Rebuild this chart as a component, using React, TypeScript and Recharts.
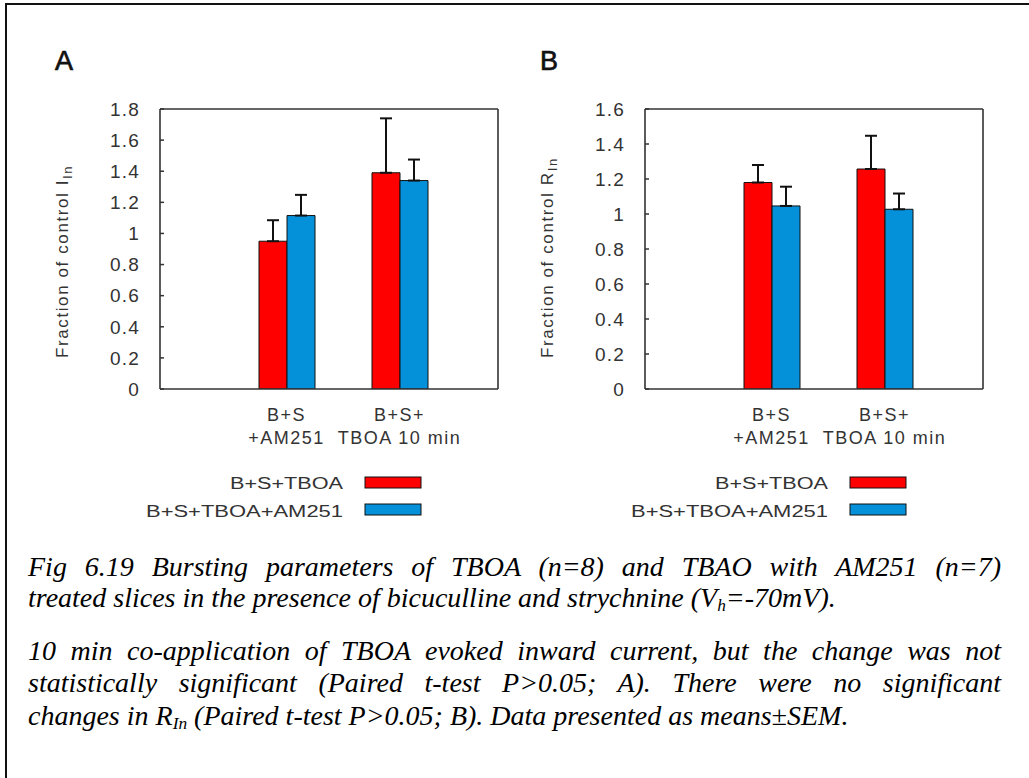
import React from 'react';
import { BarChart, Bar, XAxis, YAxis, ErrorBar } from 'recharts';

// ---------- data ----------
const categories = ['B+S\n+AM251', 'B+S+\nTBOA 10 min'];
const categoryPositions = [1, 2]; // positions on the 0..3 frame (top tick marks)
const seriesNames = ['B+S+TBOA', 'B+S+TBOA+AM251'];
const seriesColors = ['#FF0000', '#0590DA'];

// Panel A: fraction of control I_In
const iInTboa = [0.95, 1.39];
const iInTboaSem = [0.135, 0.35];
const iInAm = [1.115, 1.34];
const iInAmSem = [0.133, 0.135];

// Panel B: fraction of control R_In
const rInTboa = [1.18, 1.257];
const rInTboaSem = [0.1, 0.19];
const rInAm = [1.046, 1.027];
const rInAmSem = [0.11, 0.09];

const ticksA = [0, 0.2, 0.4, 0.6, 0.8, 1, 1.2, 1.4, 1.6, 1.8];
const ticksB = [0, 0.2, 0.4, 0.6, 0.8, 1, 1.2, 1.4, 1.6];

const buildRows = (a: number[], aErr: number[], b: number[], bErr: number[]) =>
  categories.map((name, i) => ({
    name,
    pos: categoryPositions[i],
    s1: a[i],
    s1Err: [0, aErr[i]],
    s2: b[i],
    s2Err: [0, bErr[i]],
  }));

const rowsA = buildRows(iInTboa, iInTboaSem, iInAm, iInAmSem);
const rowsB = buildRows(rInTboa, rInTboaSem, rInAm, rInAmSem);

const SANS = '"Liberation Sans", Arial, sans-serif';
const SERIF = '"Liberation Serif", "Times New Roman", serif';
const AXIS = '#333';

const fmt = (v: number) => String(Number(v.toFixed(1)));

const CatTick = (props: any) => {
  const { x, y, payload } = props;
  const lines = String(payload.value).split('\n');
  return (
    <text x={x} y={y} textAnchor="middle" fill="#333" fontFamily={SANS} fontSize={18} letterSpacing={1.5}>
      <tspan x={x} dy={32}>{lines[0]}</tspan>
      <tspan x={x} dy={23}>{lines[1]}</tspan>
    </text>
  );
};

type PanelProps = {
  rows: any[];
  ticks: number[];
  left: number;
};

const Panel = ({ rows, ticks, left }: PanelProps) => {
  const max = ticks[ticks.length - 1];
  return (
    <div style={{ position: 'absolute', left, top: 0, width: 505, height: 530 }}>
      <BarChart
        width={505}
        height={530}
        data={rows}
        margin={{ top: 108, right: 6, bottom: 81, left: 100 }}
        barGap={0}
      >
        <XAxis
          dataKey="name"
          xAxisId="bottom"
          orientation="bottom"
          height={60}
          padding={{ left: 70, right: 42 }}
          tickLine={false}
          tickSize={0}
          tickMargin={0}
          axisLine={{ stroke: AXIS, strokeWidth: 1.6 }}
          tick={<CatTick />}
          interval={0}
        />
        <XAxis
          xAxisId="top"
          dataKey="pos"
          orientation="top"
          type="number"
          domain={[0, 3]}
          ticks={categoryPositions}
          allowDataOverflow
          height={1}
          tickSize={-4}
          tick={false}
          tickLine={{ stroke: AXIS, strokeWidth: 1.5 }}
          axisLine={{ stroke: AXIS, strokeWidth: 1.6 }}
        />
        <YAxis
          yAxisId="left"
          orientation="left"
          width={60}
          domain={[0, max]}
          ticks={ticks}
          interval={0}
          allowDataOverflow
          tickSize={-4}
          tickMargin={24}
          tickFormatter={fmt}
          tickLine={{ stroke: AXIS, strokeWidth: 1.5 }}
          axisLine={{ stroke: AXIS, strokeWidth: 1.6 }}
          tick={{ fill: '#333', fontFamily: SANS, fontSize: 19, letterSpacing: 1.2 }}
        />
        <YAxis
          yAxisId="right"
          dataKey="s1"
          orientation="right"
          width={1}
          domain={[0, max]}
          ticks={ticks}
          interval={0}
          allowDataOverflow
          tickSize={-4}
          tick={false}
          tickLine={{ stroke: AXIS, strokeWidth: 1.5 }}
          axisLine={{ stroke: AXIS, strokeWidth: 1.6 }}
        />
        <Bar
          dataKey="s1"
          xAxisId="bottom"
          yAxisId="left"
          barSize={28}
          fill={seriesColors[0]}
          stroke="#111"
          strokeWidth={1}
          isAnimationActive={false}
        >
          <ErrorBar dataKey="s1Err" direction="y" width={6} stroke="#111" strokeWidth={2} isAnimationActive={false} />
        </Bar>
        <Bar
          dataKey="s2"
          xAxisId="bottom"
          yAxisId="left"
          barSize={28}
          fill={seriesColors[1]}
          stroke="#111"
          strokeWidth={1}
          isAnimationActive={false}
        >
          <ErrorBar dataKey="s2Err" direction="y" width={6} stroke="#111" strokeWidth={2} isAnimationActive={false} />
        </Bar>
      </BarChart>
    </div>
  );
};

const Decor = ({ dx, letter, yMain }: { dx: number; letter: string; yMain: string }) => (
  <g>
    <text x={55 + dx} y={70} fontFamily={SANS} fontSize={27} fill="#111" stroke="#111" strokeWidth={0.7}>
      {letter}
    </text>
    <text
      transform={`translate(${68 + dx},358) rotate(-90)`}
      fontFamily={SANS}
      fontSize={17}
      letterSpacing={1.6}
      fill="#333"
    >
      {yMain}
      <tspan fontSize={13} dy={4}>
        In
      </tspan>
    </text>
    {seriesNames.map((n, i) => (
      <g key={n}>
        <text
          x={343 + dx}
          y={[489, 517][i]}
          textAnchor="end"
          fontFamily={SANS}
          fontSize={16}
          fill="#333"
          textLength={[113, 197][i]}
          lengthAdjust="spacingAndGlyphs"
        >
          {n}
        </text>
        <rect x={365 + dx} y={[477, 504][i]} width={56} height={11} fill={seriesColors[i]} stroke="#111" strokeWidth={1} />
      </g>
    ))}
  </g>
);

const capBase: React.CSSProperties = {
  position: 'absolute',
  left: 28,
  width: 973,
  fontFamily: SERIF,
  fontStyle: 'italic',
  fontSize: 28,
  lineHeight: '32px',
  color: '#000',
};
const just: React.CSSProperties = { textAlign: 'justify', textAlignLast: 'justify' };
const subStyle: React.CSSProperties = { fontSize: '0.62em', lineHeight: 0, verticalAlign: '-0.25em' };

export default function App() {
  return (
    <div
      style={{
        position: 'absolute',
        left: 0,
        top: 0,
        width: 1029,
        height: 778,
        background: '#fff',
        overflow: 'hidden',
      }}
    >
      <div
        style={{
          position: 'absolute',
          left: 5,
          top: 3,
          width: 1100,
          height: 900,
          border: '2px solid #111',
        }}
      />
      <Panel rows={rowsA} ticks={ticksA} left={0} />
      <Panel rows={rowsB} ticks={ticksB} left={485} />
      <svg
        width={1029}
        height={560}
        style={{ position: 'absolute', left: 0, top: 0, pointerEvents: 'none' }}
      >
        <Decor dx={0} letter="A" yMain="Fraction of control I" />
        <Decor dx={485} letter="B" yMain="Fraction of control R" />
      </svg>
      <div style={{ ...capBase, ...just, top: 551 }}>
        Fig 6.19 Bursting parameters of TBOA (n=8) and TBAO with AM251 (n=7)
      </div>
      <div style={{ ...capBase, top: 582 }}>
        treated slices in the presence of bicuculline and strychnine (V<sub style={subStyle}>h</sub>=-70mV).
      </div>
      <div style={{ ...capBase, ...just, top: 635 }}>
        10 min co-application of TBOA evoked inward current, but the change was not
      </div>
      <div style={{ ...capBase, ...just, top: 667 }}>
        statistically significant (Paired t-test P&gt;0.05; A). There were no significant
      </div>
      <div style={{ ...capBase, top: 700 }}>
        changes in R<sub style={subStyle}>In</sub> (Paired t-test P&gt;0.05; B). Data presented as means±SEM.
      </div>
    </div>
  );
}
